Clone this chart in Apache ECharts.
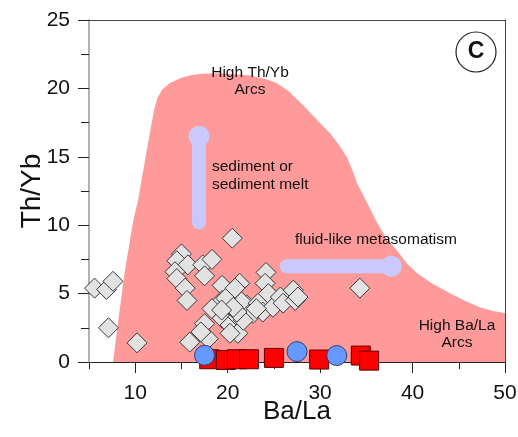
<!DOCTYPE html>
<html>
<head>
<meta charset="utf-8">
<script src="https://cdn.jsdelivr.net/npm/echarts@6/dist/echarts.min.js"></script>
<style>
html,body{margin:0;padding:0;background:#fff}
#chart{width:518px;height:437px}
</style>
</head>
<body>
<div id="chart"></div>
<script>
// Axis ticks
const xTickLabels = [10, 20, 30, 40, 50];
const xMinorTicks = [5, 15, 25, 35, 45];
const yTickLabels = [0, 5, 10, 15, 20, 25];

// Outline of the arc field (Ba/La, Th/Yb)
const arcField = [
  [7.6, 0], [8.17, 3.05], [8.89, 6.7], [9.8, 10.36], [10.3, 11.8], [11.06, 14.75],
  [11.6, 16.8], [12.03, 18.4], [12.4, 19.3], [12.9, 19.9], [13.76, 20.4], [14.84, 20.75],
  [15.9, 20.95], [17.0, 21.05], [18.5, 21.1], [20.5, 21.05], [22.4, 20.95], [24.0, 20.7],
  [25.3, 20.4], [26.6, 19.8], [28.4, 18.6], [29.8, 17.6], [31.1, 16.7], [32.1, 15.8],
  [32.9, 14.97], [33.5, 14.0], [34.0, 13.06], [35.1, 11.6], [36.2, 10.15], [37.2, 9.0],
  [38.3, 8.17], [39.4, 7.2], [40.5, 6.49], [42.2, 5.7], [44.05, 5.03], [45.7, 4.45],
  [47.3, 4.0], [48.6, 3.75], [50, 3.57], [50, 0]
];

// Trend arrows
const sedimentArrow = [[16.9, 10.2], [16.9, 16.5]];
const fluidArrow = [[26.4, 7.0], [37.7, 7.0]];

// Samples: grey diamonds
const diamondPoints = [
  [5.6, 5.4], [6.9, 5.3], [7.6, 5.9], [7.1, 2.5], [10.2, 1.4],
  [15.0, 7.9], [14.5, 7.4], [15.7, 7.1], [17.3, 7.1], [18.3, 7.5],
  [14.3, 6.6], [17.5, 6.3], [14.5, 6.1], [15.4, 5.4], [15.6, 4.5],
  [20.5, 9.05], [19.4, 5.6], [21.3, 5.75], [19.4, 4.5], [18.3, 3.9],
  [19.4, 3.2], [17.5, 2.8], [20.25, 2.7], [21.1, 3.3], [21.1, 2.1],
  [20.25, 2.1], [17.9, 1.7], [15.9, 1.45], [17.1, 2.2], [22.1, 4.15],
  [22.75, 3.55], [21.5, 4.4], [23.3, 4.3], [23.8, 3.65], [21.7, 3.05],
  [21.0, 3.65], [24.15, 6.55], [24.05, 5.75], [24.4, 5.0], [24.9, 4.0],
  [25.7, 4.75], [26.0, 4.3], [27.1, 5.25], [27.3, 4.5], [27.6, 4.75],
  [34.3, 5.4], [23.1, 3.9], [19.8, 4.65], [20.8, 5.4], [20.6, 4.0],
  [19.35, 3.8]
];

// Samples: red squares
const squarePoints = [
  [18.0, 0.2], [19.8, 0.15], [21.0, 0.2], [22.3, 0.2],
  [25.0, 0.3], [29.9, 0.18], [34.4, 0.47], [35.3, 0.1]
];

// Samples: blue circles
const circlePoints = [[17.5, 0.49], [27.5, 0.76], [31.8, 0.47]];

const font = "'Liberation Sans', Arial, sans-serif";
const chart = echarts.init(document.getElementById('chart'), null, { renderer: 'canvas' });

function arrowData(pts) {
  return pts.map((p, i) => i === pts.length - 1
    ? { value: p, symbol: 'circle', symbolSize: 21 }
    : { value: p, symbol: 'none' });
}

chart.setOption({
  animation: false,
  backgroundColor: '#fff',
  grid: { left: 89, top: 20, width: 416, height: 342, outerBoundsMode: 'none', containLabel: false },
  xAxis: [
    {
      type: 'value', min: 5, max: 50, interval: 5,
      name: 'Ba/La', nameLocation: 'middle', nameGap: 37, nameMoveOverlap: false,
      nameTextStyle: { fontFamily: font, fontSize: 26, color: '#111' },
      axisLine: { show: true, lineStyle: { color: '#222', width: 1 } },
      axisTick: { show: true, customValues: xTickLabels, length: 11, lineStyle: { color: '#222' } },
      axisLabel: { customValues: xTickLabels, fontFamily: font, fontSize: 21, color: '#111', margin: 21 },
      splitLine: { show: false }
    },
    {
      type: 'value', min: 5, max: 50, interval: 5, position: 'bottom',
      axisLine: { show: false },
      axisTick: { show: true, customValues: xMinorTicks, length: 7, lineStyle: { color: '#222' } },
      axisLabel: { show: false },
      splitLine: { show: false }
    },
    {
      type: 'value', min: 5, max: 50, position: 'top',
      axisLine: { show: true, lineStyle: { color: '#444', width: 1 } },
      axisTick: { show: false }, axisLabel: { show: false }, splitLine: { show: false }
    }
  ],
  yAxis: [
    {
      type: 'value', min: 0, max: 25, interval: 5,
      name: 'Th/Yb', nameLocation: 'middle', nameGap: 43, nameMoveOverlap: false,
      nameTextStyle: { fontFamily: font, fontSize: 28, color: '#111' },
      axisLine: { show: true, lineStyle: { color: '#999', width: 1.5 } },
      axisTick: { show: true, length: 11, lineStyle: { color: '#222' } },
      minorTick: { show: true, splitNumber: 2, length: 8, lineStyle: { color: '#222' } },
      axisLabel: { fontFamily: font, fontSize: 21, color: '#111', margin: 19 },
      splitLine: { show: false }
    },
    {
      type: 'value', min: 0, max: 25, position: 'right',
      axisLine: { show: true, lineStyle: { color: '#444', width: 1 } },
      axisTick: { show: false }, axisLabel: { show: false }, splitLine: { show: false }
    }
  ],
  series: [
    {
      type: 'custom',
      name: 'Arc field',
      data: [0],
      silent: true,
      z: 1,
      renderItem: function (params, api) {
        const pts = arcField.map(p => api.coord(p));
        return { type: 'polygon', shape: { points: pts }, style: { fill: '#ff9a9a' } };
      }
    },
    {
      type: 'line', name: 'sediment', data: arrowData(sedimentArrow), z: 2,
      lineStyle: { color: '#c9c9fd', width: 14, cap: 'round' },
      itemStyle: { color: '#c9c9fd' }, silent: true
    },
    {
      type: 'line', name: 'fluid', data: arrowData(fluidArrow), z: 2,
      lineStyle: { color: '#c9c9fd', width: 14, cap: 'round' },
      itemStyle: { color: '#c9c9fd' }, silent: true
    },
    {
      type: 'scatter', name: 'diamonds', data: diamondPoints, z: 3,
      symbol: 'diamond', symbolSize: 20,
      itemStyle: { color: '#e2e2e2', borderColor: '#3a3a3a', borderWidth: 1, opacity: 1 }
    },
    {
      type: 'scatter', name: 'squares', data: squarePoints, z: 4,
      symbol: 'rect', symbolSize: 19,
      itemStyle: { color: '#ff0000', borderColor: '#5a0000', borderWidth: 1, opacity: 1 }
    },
    {
      type: 'scatter', name: 'circles', data: circlePoints, z: 5,
      symbol: 'circle', symbolSize: 20,
      itemStyle: { color: '#6699ff', borderColor: '#33406a', borderWidth: 1, opacity: 1 }
    }
  ],
  graphic: [
    { type: 'text', x: 250, y: 64, z: 10, style: { text: 'High Th/Yb\nArcs', align: 'center', font: '15.5px ' + font, lineHeight: 17, fill: '#111' } },
    { type: 'text', x: 212, y: 158, z: 10, style: { text: 'sediment or\nsediment melt', align: 'left', font: '15.5px ' + font, lineHeight: 18, fill: '#111' } },
    { type: 'text', x: 295, y: 232, z: 10, style: { text: 'fluid-like metasomatism', align: 'left', font: '15.5px ' + font, fill: '#111' } },
    { type: 'text', x: 457, y: 317, z: 10, style: { text: 'High Ba/La\nArcs', align: 'center', font: '15.5px ' + font, lineHeight: 17, fill: '#111' } },
    { type: 'circle', z: 10, shape: { cx: 476, cy: 52, r: 20 }, style: { fill: '#fff', stroke: '#222', lineWidth: 1.2 } },
    { type: 'text', z: 11, x: 476, y: 52, style: { text: 'C', align: 'center', verticalAlign: 'middle', font: 'bold 23px ' + font, fill: '#111' } }
  ]
});
</script>
</body>
</html>
